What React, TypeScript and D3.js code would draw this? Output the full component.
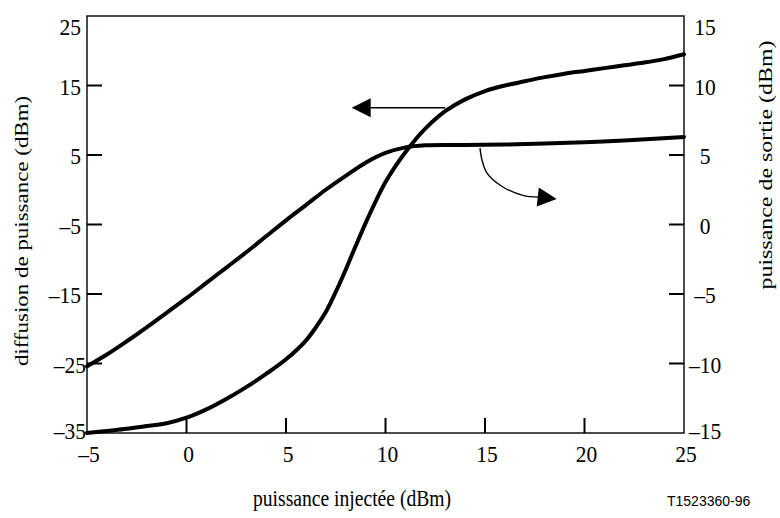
import React, { useEffect, useRef } from "react";
import * as d3 from "d3";

// x axis: puissance injectée (dBm)
const xTicks = [-5, 0, 5, 10, 15, 20, 25];
const leftTicks = [-35, -25, -15, -5, 5, 15, 25];
const rightTicks = [-15, -10, -5, 0, 5, 10, 15];

// Diffusion de puissance (left axis, dBm)
const diffX = [-5, -4, -3, -2, -1, 0, 1, 2, 3, 4, 5, 6, 6.5, 7, 7.5, 8, 8.5, 9, 9.5, 10, 10.5, 11, 11.5, 12, 13, 14, 15, 16, 17, 18, 19, 20, 21, 22, 23, 24, 25];
const diffY = [-35, -34.7, -34.4, -34.0, -33.6, -32.8, -31.6, -30.1, -28.4, -26.5, -24.4, -21.7, -19.8, -17.6, -14.7, -11.5, -8.1, -4.8, -1.7, 1.1, 3.4, 5.4, 7.2, 8.8, 11.3, 13.0, 14.2, 15.0, 15.6, 16.2, 16.7, 17.1, 17.5, 17.9, 18.3, 18.8, 19.5];

// Puissance de sortie (right axis, dBm)
const outX = [-5, -4, -3, -2, -1, 0, 1, 2, 3, 4, 5, 6, 7, 8, 9, 10, 11, 12, 14, 16, 18, 20, 22, 25];
const outY = [-10.2, -9.35, -8.4, -7.4, -6.35, -5.3, -4.2, -3.1, -2.0, -0.85, 0.3, 1.4, 2.5, 3.5, 4.45, 5.15, 5.55, 5.7, 5.72, 5.75, 5.82, 5.92, 6.05, 6.3];

// annotation arrows (data units)
const leftArrowX = [13.0, 8.3];
const leftArrowY = [11.8, 11.8]; // left axis units
const rightArrowX = [14.75, 14.85, 15.1, 15.9, 16.9, 17.7, 18.6];
const rightArrowY = [5.5, 4.64, 3.7, 2.7, 2.1, 1.97, 1.83]; // right axis units

const dash = (v: number) => (v < 0 ? "\u2013" + Math.abs(v) : String(v));

export default function App() {
  const ref = useRef<SVGSVGElement>(null);
  useEffect(() => {
    const W = 780, H = 518;
    const svg = d3.select(ref.current);
    svg.selectAll("*").remove();
    const x = d3.scaleLinear().domain([-5, 25]).range([87, 684]);
    const yL = d3.scaleLinear().domain([-35, 25]).range([433, 16]);
    const yR = d3.scaleLinear().domain([-15, 15]).range([433, 16]);
    const serif = "'Liberation Serif', 'Times New Roman', serif";
    const tfs = 21.5;
    const fs = 19.6;

    svg.append("rect").attr("width", W).attr("height", H).attr("fill", "#fff");

    // frame
    svg.append("rect")
      .attr("x", x(-5)).attr("y", yL(25))
      .attr("width", x(25) - x(-5)).attr("height", yL(-35) - yL(25))
      .attr("fill", "none").attr("stroke", "#111").attr("stroke-width", 1.5);

    const tickLen = 15;
    leftTicks.filter(t => t > -35 && t < 25).forEach(t => {
      svg.append("line").attr("x1", x(-5)).attr("x2", x(-5) + tickLen)
        .attr("y1", yL(t)).attr("y2", yL(t)).attr("stroke", "#000").attr("stroke-width", 2);
    });
    rightTicks.filter(t => t > -15 && t < 15).forEach(t => {
      svg.append("line").attr("x1", x(25)).attr("x2", x(25) - tickLen)
        .attr("y1", yR(t)).attr("y2", yR(t)).attr("stroke", "#000").attr("stroke-width", 2);
    });
    xTicks.filter(t => t > -5 && t < 25).forEach(t => {
      svg.append("line").attr("x1", x(t)).attr("x2", x(t))
        .attr("y1", yL(-35)).attr("y2", yL(-35) - tickLen).attr("stroke", "#000").attr("stroke-width", 2);
    });

    const txt = (tx: number, ty: number, s: string, anchor: string, rot = 0, size = fs, fam = serif, stretch = 1.17) => {
      svg.append("text")
        .attr("transform", `translate(${tx},${ty}) scale(1,${stretch}) rotate(${rot})`)
        .attr("text-anchor", anchor)
        .attr("font-family", fam).attr("font-size", size).attr("fill", "#000")
        .text(s);
    };

    // tick labels
    leftTicks.forEach(t => {
      let by = yL(t) + 9;
      if (t === 25) by = yL(t) + 19;
      if (t === -35) by = yL(t) + 6;
      txt(t <= -25 ? 86 : 81, by, dash(t), "end", 0, tfs, serif, 1.1);
    });
    rightTicks.forEach(t => {
      let by = yR(t) + 9;
      if (t === 15) by = yR(t) + 19;
      if (t === -15) by = yR(t) + 6;
      txt(705, by, dash(t), "middle", 0, tfs, serif, 1.1);
    });
    xTicks.forEach(t => {
      txt(x(t) + 2, 462, dash(t), "middle", 0, tfs, serif, 1.1);
    });

    // axis titles
    txt(352, 506, "puissance injectée (dBm)", "middle");
    txt(28, 231, "diffusion de puissance (dBm)", "middle", -90);
    txt(772, 165, "puissance de sortie (dBm)", "middle", -90, fs, serif, 1.22);
    txt(667, 506, "T1523360-96", "start", 0, 14, "'Liberation Sans', Arial, sans-serif", 1);

    // curves
    const lineL = d3.line<number>().x((_, i) => x(diffX[i])).y((d) => yL(d)).curve(d3.curveCatmullRom.alpha(0.5));
    svg.append("path").attr("d", lineL(diffY)).attr("fill", "none").attr("stroke", "#000")
      .attr("stroke-width", 4).attr("stroke-linecap", "round").attr("stroke-linejoin", "round");
    const lineR = d3.line<number>().x((_, i) => x(outX[i])).y((d) => yR(d)).curve(d3.curveCatmullRom.alpha(0.5));
    svg.append("path").attr("d", lineR(outY)).attr("fill", "none").attr("stroke", "#000")
      .attr("stroke-width", 4).attr("stroke-linecap", "round").attr("stroke-linejoin", "round");

    // arrows
    const head = (tipX: number, tipY: number, fromX: number, fromY: number) => {
      const ang = Math.atan2(tipY - fromY, tipX - fromX);
      const L = 19, Wd = 9.5;
      const bx = tipX - L * Math.cos(ang), by = tipY - L * Math.sin(ang);
      const p1 = [bx + Wd * Math.sin(ang), by - Wd * Math.cos(ang)];
      const p2 = [bx - Wd * Math.sin(ang), by + Wd * Math.cos(ang)];
      svg.append("path").attr("d", `M${tipX},${tipY}L${p1[0]},${p1[1]}L${p2[0]},${p2[1]}Z`).attr("fill", "#000");
      return [bx, by];
    };
    const lx0 = x(leftArrowX[0]), ly0 = yL(leftArrowY[0]);
    const lx1 = x(leftArrowX[1]), ly1 = yL(leftArrowY[1]);
    const [lbx, lby] = head(lx1, ly1, lx0, ly0);
    svg.append("line").attr("x1", lx0).attr("y1", ly0).attr("x2", lbx).attr("y2", lby)
      .attr("stroke", "#000").attr("stroke-width", 1.6);

    const n = rightArrowX.length;
    const rTipX = x(rightArrowX[n - 1]), rTipY = yR(rightArrowY[n - 1]);
    const rPrevX = x(rightArrowX[n - 3]), rPrevY = yR(rightArrowY[n - 3]);
    head(rTipX, rTipY, rPrevX, rPrevY);
    const arcLine = d3.line<number>().x((_, i) => x(rightArrowX[i])).y((d) => yR(d)).curve(d3.curveCatmullRom.alpha(0.5));
    svg.append("path").attr("d", arcLine(rightArrowY.slice(0, n - 1))).attr("fill", "none")
      .attr("stroke", "#000").attr("stroke-width", 1.4);
  }, []);
  return (
    <svg ref={ref} width={780} height={518}
      style={{ position: "fixed", left: 0, top: 0, display: "block" }} />
  );
}
